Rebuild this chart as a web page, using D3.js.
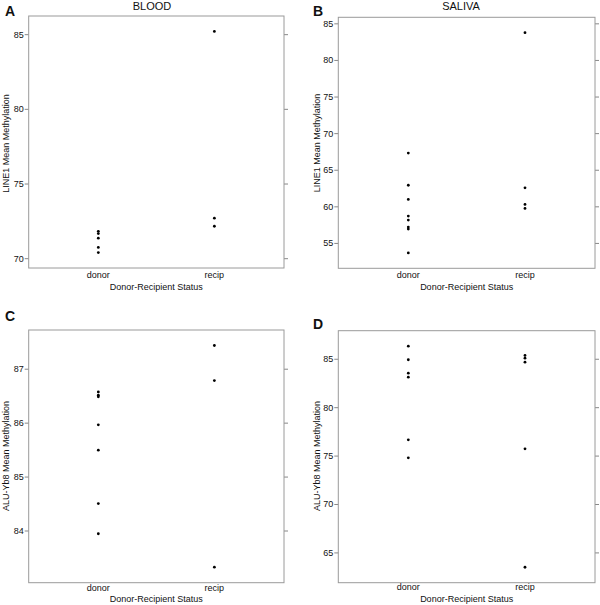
<!DOCTYPE html>
<html><head><meta charset="utf-8">
<script src="https://cdn.jsdelivr.net/npm/d3@7"></script>
<style>body{margin:0;background:#fff}svg{display:block}text{font-family:"Liberation Sans",Arial,sans-serif;fill:#111}</style>
</head><body><svg id="c" width="600" height="605"></svg>
<script>
const groups = ["donor", "recip"];
const bloodLine1Donor = [71.80, 71.65, 71.34, 70.72, 70.38];
const bloodLine1Recip = [85.18, 72.68, 72.14];
const salivaLine1Donor = [67.28, 62.88, 60.94, 58.67, 58.12, 57.17, 56.90, 53.64];
const salivaLine1Recip = [83.72, 62.53, 60.26, 59.71];
const bloodAluDonor = [86.57, 86.51, 86.48, 85.96, 85.49, 84.50, 83.94];
const bloodAluRecip = [87.43, 86.78, 83.32];
const salivaAluDonor = [86.30, 84.90, 83.51, 83.10, 76.63, 74.77];
const salivaAluRecip = [85.34, 85.06, 84.65, 75.70, 63.47];
const ticksA = [70, 75, 80, 85];
const ticksB = [55, 60, 65, 70, 75, 80, 85];
const ticksC = [84, 85, 86, 87];
const ticksD = [65, 70, 75, 80, 85];
const columnTitles = ["BLOOD", "SALIVA"];
const panelLetters = ["A", "B", "C", "D"];
const yLabels = ["LINE1 Mean Methylation", "LINE1 Mean Methylation", "ALU-Yb8 Mean Methylation", "ALU-Yb8 Mean Methylation"];
const xLabel = "Donor-Recipient Status";

const svg = d3.select("#c");
const panels = [
  {donor: bloodLine1Donor, recip: bloodLine1Recip, ticks: ticksA, box: [28.7, 284, 16, 268], letter: [5, 15.5], ylab: [9, 143.5], tickY: 278, labY: 289.5},
  {donor: salivaLine1Donor, recip: salivaLine1Recip, ticks: ticksB, box: [338.3, 595, 17.3, 268.3], letter: [313, 15.5], ylab: [320, 143], tickY: 278, labY: 289.5},
  {donor: bloodAluDonor, recip: bloodAluRecip, ticks: ticksC, box: [28.7, 284, 330, 582.7], letter: [5, 321], ylab: [9, 456], tickY: 591, labY: 602},
  {donor: salivaAluDonor, recip: salivaAluRecip, ticks: ticksD, box: [338.3, 595, 330.7, 582.7], letter: [313, 329], ylab: [320, 456], tickY: 590, labY: 602}
];

panels.forEach((p, i) => {
  const [x0, x1, y0, y1] = p.box;
  const all = p.donor.concat(p.recip);
  const ext = d3.extent(all);
  const pad = (ext[1] - ext[0]) * 0.07;
  const y = d3.scaleLinear().domain([ext[0] - pad, ext[1] + pad]).range([y1, y0]);
  const x = d3.scalePoint().domain(groups).range([x0, x1]).padding(0.6);
  const g = svg.append("g");

  // left axis
  const la = g.append("g").attr("transform", `translate(${x0},0)`)
    .call(d3.axisLeft(y).tickValues(p.ticks).tickSize(4).tickPadding(1).tickFormat(d3.format("d")));
  la.select(".domain").remove();
  la.selectAll("line").attr("stroke", "#888");
  la.selectAll("text").attr("font-size", 9).attr("fill", "#111").attr("font-family", "Liberation Sans, Arial, sans-serif");
  // right ticks
  const ra = g.append("g").attr("transform", `translate(${x1},0)`)
    .call(d3.axisRight(y).tickValues(p.ticks).tickSize(4).tickFormat(""));
  ra.select(".domain").remove();
  ra.selectAll("line").attr("stroke", "#888");

  // box
  g.append("rect").attr("x", x0).attr("y", y0).attr("width", x1 - x0).attr("height", y1 - y0)
    .attr("fill", "none").attr("stroke", "#9a9a9a").attr("stroke-width", 1);

  // x tick labels
  g.selectAll(".xt").data(groups).enter().append("text")
    .attr("x", d => x(d)).attr("y", p.tickY).attr("text-anchor", "middle").attr("font-size", 9).text(d => d);
  // x label
  g.append("text").attr("x", (x0 + x1) / 2).attr("y", p.labY).attr("text-anchor", "middle").attr("font-size", 9).text(xLabel);
  // y label
  g.append("text").attr("transform", `translate(${p.ylab[0]},${p.ylab[1]}) rotate(-90)`)
    .attr("text-anchor", "middle").attr("font-size", 9).text(yLabels[i]);
  // panel letter
  g.append("text").attr("x", p.letter[0]).attr("y", p.letter[1]).attr("font-size", 14).attr("font-weight", "bold").text(panelLetters[i]);

  // points
  const pts = p.donor.map(v => ({g: "donor", v})).concat(p.recip.map(v => ({g: "recip", v})));
  g.selectAll("circle").data(pts).enter().append("circle")
    .attr("cx", d => x(d.g)).attr("cy", d => y(d.v)).attr("r", 1.4).attr("fill", "#000");
});

// column titles
svg.append("text").attr("x", 152).attr("y", 9.5).attr("text-anchor", "middle").attr("font-size", 11).text(columnTitles[0]);
svg.append("text").attr("x", 461).attr("y", 9.5).attr("text-anchor", "middle").attr("font-size", 11).text(columnTitles[1]);
</script></body></html>
